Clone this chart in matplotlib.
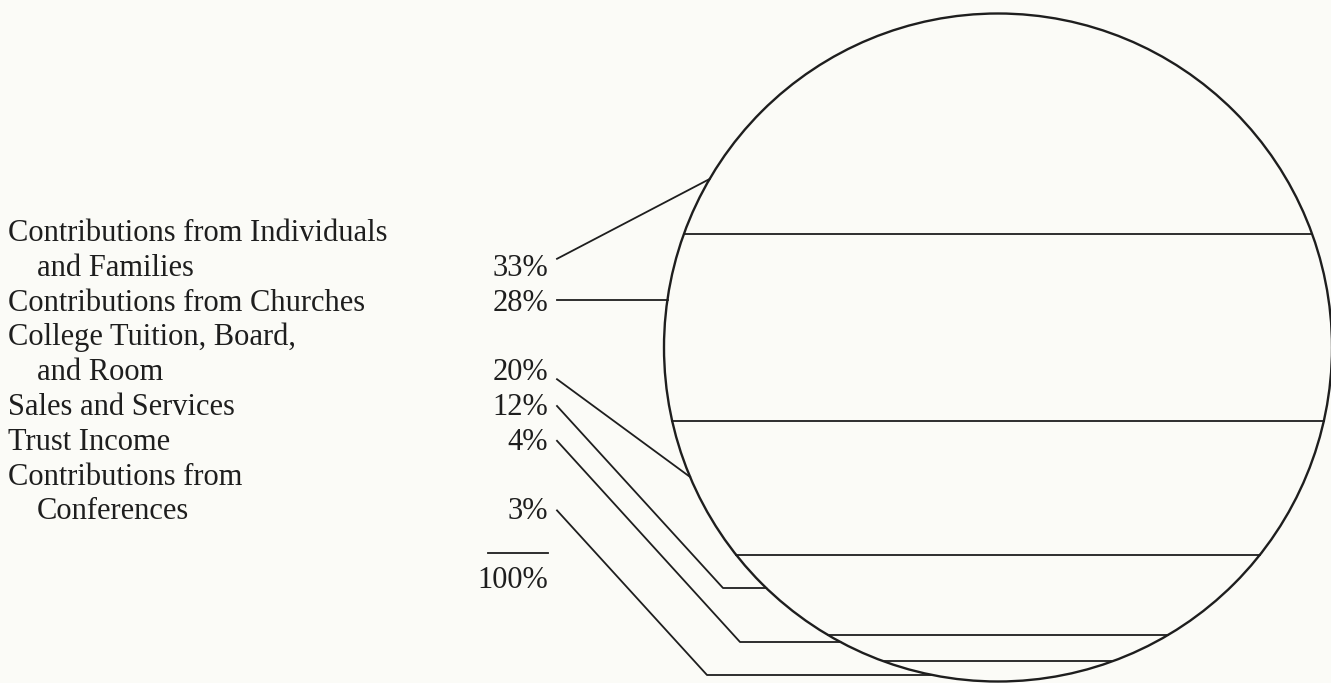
import numpy as np
import matplotlib
matplotlib.use("Agg")
import matplotlib.pyplot as plt
from matplotlib.patches import Circle

# --- data ---
sources = [
    "Contributions from Individuals\n  and Families",
    "Contributions from Churches",
    "College Tuition, Board,\n  and Room",
    "Sales and Services",
    "Trust Income",
    "Contributions from\n  Conferences",
]
percents = [33, 28, 20, 12, 4, 3]
total_label = "100%"

# --- layout (pixel coords, y grows downward) ---
W, H = 1331, 683
CX, CY, R = 998, 347.5, 334
ROW0, ROW_STEP = 241, 34.8          # baseline of first text row
TEXT_X, INDENT_X, PCT_X = 8, 37, 548
INK = "#1e1e1e"
FONT = "Liberation Serif"
FS = 22

# where each leader hits the circle (y) and its bend point
leader_hit_y = [179, 298, 477, 588, 642, 675]
leader_bend_x = [None, None, None, 723, 740, 707]

fig = plt.figure(figsize=(W / 100, H / 100), dpi=100)
fig.patch.set_facecolor("#fbfbf7")
ax = fig.add_axes([0, 0, 1, 1])
ax.set_xlim(0, W)
ax.set_ylim(H, 0)
ax.set_aspect("equal")
ax.axis("off")

ax.add_patch(Circle((CX, CY), R, fill=False, lw=1.7, ec=INK))

def half_width(y):
    return np.sqrt(max(R**2 - (y - CY) ** 2, 0))

# band boundaries: share of the circle's height
top = CY - R
cum = np.cumsum(percents)[:-1] / 100.0
for c in cum:
    y = top + c * 2 * R
    hw = half_width(y)
    ax.plot([CX - hw, CX + hw], [y, y], color=INK, lw=1.3)

# labels
row = 0
for i, (name, pct) in enumerate(zip(sources, percents)):
    for ln in name.split("\n"):
        x = INDENT_X if ln.startswith(" ") else TEXT_X
        ax.text(x, ROW0 + row * ROW_STEP, ln.strip(), family=FONT, fontsize=FS,
                color=INK, va="baseline", ha="left")
        row += 1
    base = ROW0 + (row - 1) * ROW_STEP
    ax.text(PCT_X, base, f"{pct}%", family=FONT, fontsize=FS, color=INK,
            va="baseline", ha="right")

    # leader line
    sy = base - 11
    hy = leader_hit_y[i]
    hx = CX - half_width(hy)
    x0 = PCT_X + 9
    if i == 1:
        ax.plot([x0, hx], [sy, sy], color=INK, lw=1.3)
    elif leader_bend_x[i] is None:
        ax.plot([x0, hx], [sy + (10 if i == 2 else -6), hy], color=INK, lw=1.3)
    else:
        bx = leader_bend_x[i]
        ax.plot([x0, bx, hx], [sy + 2, hy, hy], color=INK, lw=1.3)

# total
tot_base = ROW0 + (row + 1) * ROW_STEP - 1
ax.plot([488, PCT_X], [553, 553], color=INK, lw=1.3)
ax.text(PCT_X, tot_base, total_label, family=FONT, fontsize=FS, color=INK,
        va="baseline", ha="right")

fig.savefig("out.png", dpi=100, facecolor=fig.get_facecolor())
